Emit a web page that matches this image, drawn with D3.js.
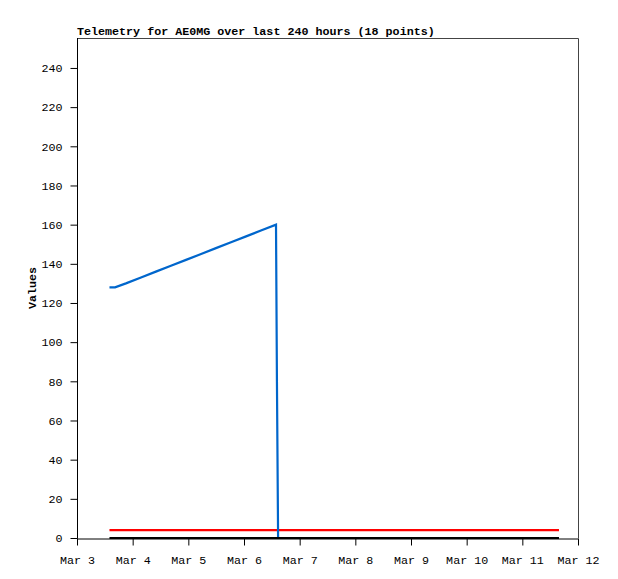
<!DOCTYPE html>
<html>
<head>
<meta charset="utf-8">
<script src="https://cdn.jsdelivr.net/npm/d3@7"></script>
<style>
  body { margin: 0; background: #fff; }
  svg { display: block; }
  text { font-family: "Liberation Mono", "DejaVu Sans Mono", monospace; }
</style>
</head>
<body>
<svg id="chart" width="618" height="579"></svg>
<script>
// ---- data (hours after Mar 3 00:00 UTC) ----
const title = "Telemetry for AE0MG over last 240 hours (18 points)";
const yLabel = "Values";
const hoursOffset = [14.0, 16.4, 21.1, 27.6, 34.0, 40.5, 47.0, 53.5, 59.9, 66.4, 72.9, 79.3, 85.8, 86.2, 86.7, 120.0, 160.0, 207.8];
const seriesBlue  = [128, 128, 130, 133, 136, 139, 142, 145, 148, 151, 154, 157, 160, 80, 0, 0, 0, 0];
const seriesRed   = [4, 4, 4, 4, 4, 4, 4, 4, 4, 4, 4, 4, 4, 4, 4, 4, 4, 4];
const seriesBlack = [0, 0, 0, 0, 0, 0, 0, 0, 0, 0, 0, 0, 0, 0, 0, 0, 0, 0];
const xTickLabels = ["Mar 3", "Mar 4", "Mar 5", "Mar 6", "Mar 7", "Mar 8", "Mar 9", "Mar 10", "Mar 11", "Mar 12"];
const yTicks = [0, 20, 40, 60, 80, 100, 120, 140, 160, 180, 200, 220, 240];
const yMax = 255.3;

const startDate = Date.UTC(2024, 2, 3);
const times = hoursOffset.map(h => new Date(startDate + h * 3600e3));
const tickDates = xTickLabels.map((_, i) => new Date(startDate + i * 86400e3));

const svg = d3.select("#chart");
const L = 77, R = 578, T = 38, B = 538;
const FS = "11.7px";

const x = d3.scaleUtc().domain([tickDates[0], tickDates[tickDates.length - 1]]).range([L, R]);
const y = d3.scaleLinear().domain([0, yMax]).range([B, T]);

// frame (top & right)
svg.append("path")
  .attr("d", `M${L},${T + 0.5}H${R + 0.5}V${B}`)
  .attr("fill", "none").attr("stroke", "#444").attr("stroke-width", 1);

// y axis
const yAxis = svg.append("g").attr("transform", `translate(${L + 0.5},0)`)
  .call(d3.axisLeft(y).tickValues(yTicks).tickSize(7).tickSizeOuter(0).tickPadding(8));
yAxis.select(".domain").attr("d", `M0,${T}V${B + 0.5}`);

// x axis
const xAxis = svg.append("g").attr("transform", `translate(0,${B + 0.5})`)
  .call(d3.axisBottom(x).tickValues(tickDates).tickSize(7).tickSizeOuter(0).tickPadding(10)
        .tickFormat((d, i) => xTickLabels[i]));

svg.selectAll(".tick text").attr("font-size", FS).attr("fill", "#000")
  .style("font-family", '"Liberation Mono", "DejaVu Sans Mono", monospace');
svg.selectAll(".tick line, .domain").attr("stroke", "#000");

// series
const line = vals => d3.line().x((d, i) => x(times[i])).y(d => y(d))(vals);
svg.append("path").attr("d", line(seriesRed)).attr("fill", "none")
  .attr("stroke", "#ff0000").attr("stroke-width", 2.2);
svg.append("path").attr("d", line(seriesBlue)).attr("fill", "none")
  .attr("stroke", "#0066cc").attr("stroke-width", 2.2);
svg.append("path").attr("d", line(seriesBlack)).attr("fill", "none")
  .attr("stroke", "#000").attr("stroke-width", 2.2);

// title
svg.append("text").attr("x", L).attr("y", 35)
  .attr("font-size", FS).attr("font-weight", "bold").text(title);

// y label
svg.append("text").attr("transform", `translate(36,${(T + B) / 2}) rotate(-90)`)
  .attr("text-anchor", "middle").attr("font-size", FS).attr("font-weight", "bold").text(yLabel);
</script>
</body>
</html>
